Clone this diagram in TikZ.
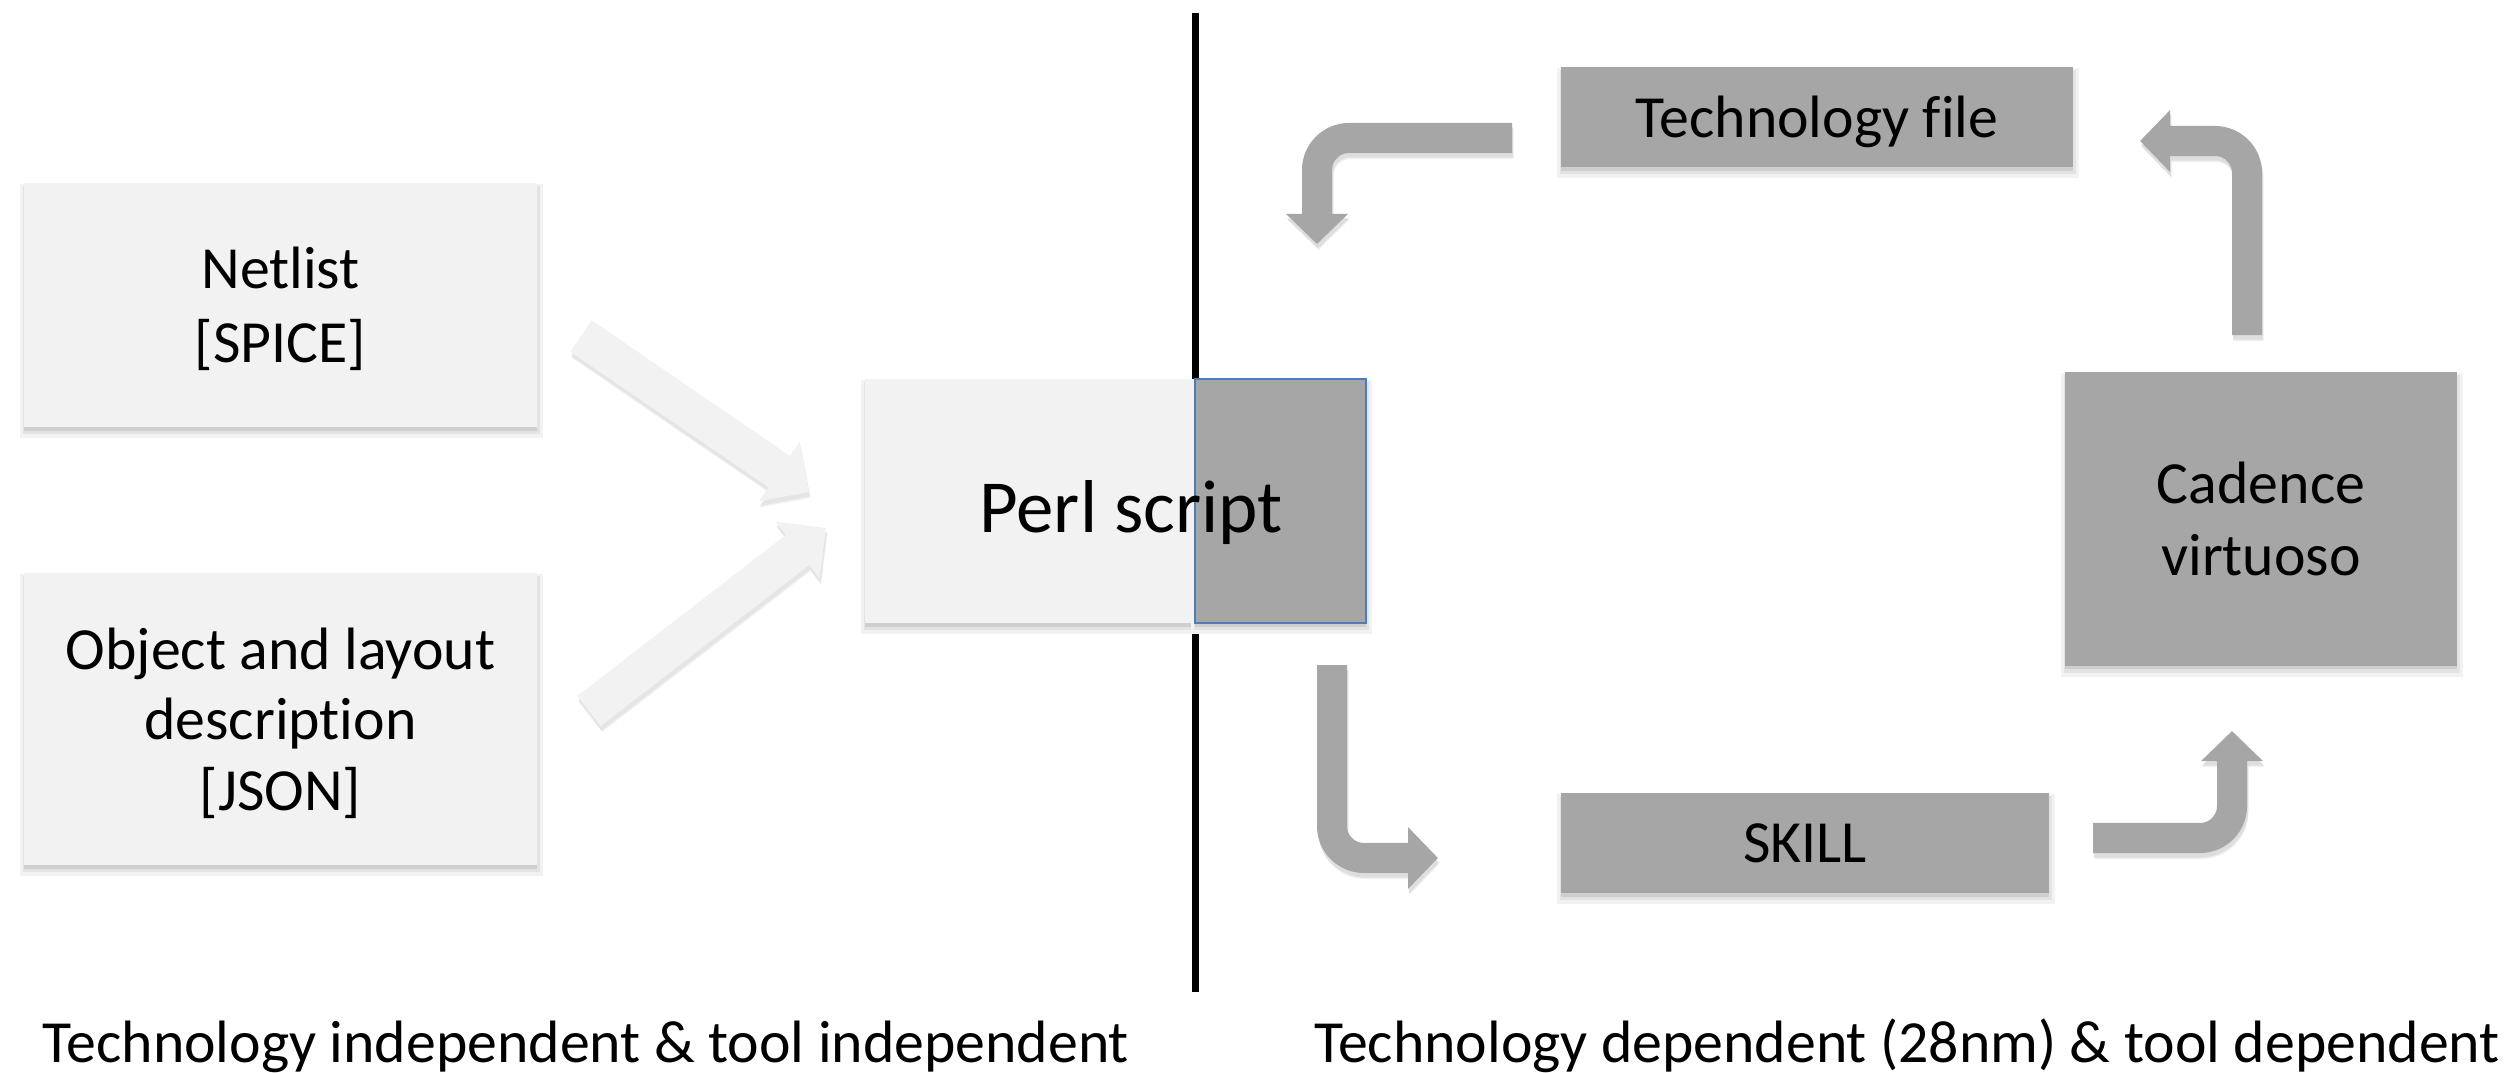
\documentclass[tikz,border=0pt]{standalone}
\usepackage{fontspec}
\setmainfont[Ligatures=NoCommon]{Carlito}
\usetikzlibrary{arrows.meta}
\definecolor{lightfill}{HTML}{F2F2F2}
\definecolor{darkfill}{HTML}{A6A6A6}
\definecolor{edgeblue}{HTML}{4A7EBB}
\tikzset{
  boxshadow/.style={
    preaction={fill=black!5, draw=black!5, line width=0.1cm, transform canvas={xshift=0.01cm,yshift=-0.06cm}},
    preaction={fill=black!11, draw=black!11, line width=0.04cm, transform canvas={xshift=0.01cm,yshift=-0.05cm}},
    preaction={fill=black!19, transform canvas={yshift=-0.035cm}}},
  lightbox/.style={boxshadow, fill=lightfill, inner sep=0pt, text depth=0pt, align=center, font=\fontsize{17pt}{21pt}\selectfont},
  darkbox/.style={boxshadow, fill=darkfill, inner sep=0pt, text depth=0pt, align=center, font=\fontsize{17pt}{20.5pt}\selectfont},
  bottomtext/.style={anchor=base, inner sep=0pt, font=\fontsize{17pt}{20pt}\selectfont},
  divider/.style={draw=black, line width=0.07cm},
  fatlight/.style={draw=#1, line width=0.38cm, -{Triangle[width=0.7cm,length=0.36cm]}},
  fatlight/.default=lightfill,
  fatdark/.style={draw=#1, line width=0.3cm, rounded corners=0.32cm, -{Triangle[width=0.6cm,length=0.3cm]}},
  fatdark/.default=darkfill,
  lowshadow/.style={transform canvas={xshift=0.01cm,yshift=-0.045cm}},
  lowshadowwide/.style={transform canvas={xshift=0.015cm,yshift=-0.06cm}}
}
\begin{document}
\begin{tikzpicture}[x=0.01cm, y=-0.01cm]
\useasboundingbox (0,0) rectangle (2518,1073);

% divider line
\coordinate (divtop) at (1195,13);
\coordinate (divbot) at (1195,992);
\draw[divider] (divtop) -- (divbot);

% left boxes
\node[lightbox, minimum width=5.13cm, minimum height=2.44cm] (netlist) at (280.5,305) {Netlist\\{[SPICE]}};
\node[lightbox, minimum width=5.13cm, minimum height=2.92cm, font=\fontsize{17pt}{20pt}\selectfont] (object) at (280.5,719) {Object and layout\\description\\{[JSON]}};

% perl script
\node[lightbox, minimum width=3.30cm, minimum height=2.44cm] (perlL) at (1030,501) {};
\node[darkbox, draw=edgeblue, line width=0.02cm, minimum width=1.71cm, minimum height=2.44cm] (perlR) at (1280.5,501) {};
\node[anchor=base, inner sep=0pt, font=\fontsize{21.3pt}{25pt}\selectfont] (perltext) at (1131,532) {Perl script};

% right boxes
\node[darkbox, minimum width=5.12cm, minimum height=1.00cm] (tech) at (1817,117) {Technology file};
\node[darkbox, minimum width=3.92cm, minimum height=2.93cm] (cadence) at (2261,519) {Cadence\\virtuoso};
\node[darkbox, minimum width=4.88cm, minimum height=1.00cm] (skill) at (1805,843) {SKILL};

% light arrows
\coordinate (uA) at (581,336);
\coordinate (uB) at (809,492);
\coordinate (lA) at (589,711);
\coordinate (lB) at (826,528);
\draw[fatlight=black!5, lowshadowwide] (uA) -- (uB);
\draw[fatlight=black!10, lowshadow] (uA) -- (uB);
\draw[fatlight] (uA) -- (uB);
\draw[fatlight=black!5, lowshadowwide] (lA) -- (lB);
\draw[fatlight=black!10, lowshadow] (lA) -- (lB);
\draw[fatlight] (lA) -- (lB);

% dark bent arrows
\coordinate (aS) at (1512,138);
\coordinate (aC) at (1317,138);
\coordinate (aE) at (1317,244);
\coordinate (bS) at (1332,665);
\coordinate (bC) at (1332,858);
\coordinate (bE) at (1438,858);
\coordinate (cS) at (2093,838);
\coordinate (cC) at (2232,838);
\coordinate (cE) at (2232,731);
\coordinate (dS) at (2247,335);
\coordinate (dC) at (2247,141);
\coordinate (dE) at (2140,141);
\foreach \p/\q/\r in {aS/aC/aE, bS/bC/bE, cS/cC/cE, dS/dC/dE}{
  \draw[fatdark=black!6, lowshadowwide] (\p) -- (\q) -- (\r);
  \draw[fatdark=black!13, lowshadow] (\p) -- (\q) -- (\r);
  \draw[fatdark] (\p) -- (\q) -- (\r);
}

% bottom captions
\node[bottomtext] (capL) at (586,1062) {Technology independent \& tool independent};
\node[bottomtext] (capR) at (1907,1062) {Technology dependent (28nm) \& tool dependent};
\end{tikzpicture}
\end{document}
